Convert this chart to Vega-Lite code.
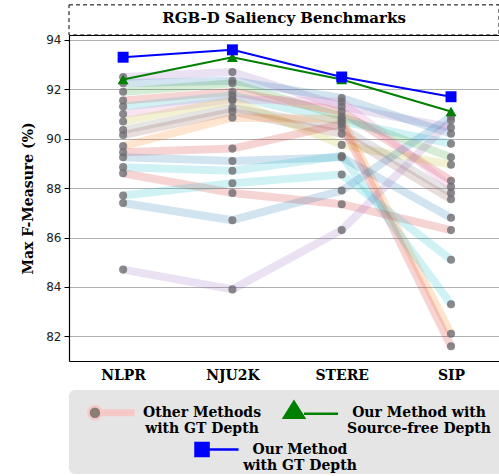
{
  "$schema": "https://vega.github.io/schema/vega-lite/v6.json",
  "width": 430,
  "height": 326,
  "autosize": {"type": "none"},
  "padding": {"left": 69, "top": 35, "right": 0, "bottom": 115},
  "title": {"text": "RGB-D Saliency Benchmarks", "font": "DejaVu Serif", "fontSize": 15, "fontWeight": "bold", "color": "black", "anchor": "middle", "frame": "group", "offset": -22},
  "config": {"view": {"stroke": null}, "font": "DejaVu Sans"},
  "datasets": {
    "others": [
      {"m": "M1", "d": "NLPR", "v": 92.5}, {"m": "M1", "d": "NJU2K", "v": 92.7}, {"m": "M1", "d": "STERE", "v": 91.3}, {"m": "M1", "d": "SIP", "v": 90.45},
      {"m": "M2", "d": "NLPR", "v": 92.25}, {"m": "M2", "d": "NJU2K", "v": 92.35}, {"m": "M2", "d": "STERE", "v": 91.65}, {"m": "M2", "d": "SIP", "v": 90.2},
      {"m": "M3", "d": "NLPR", "v": 91.9}, {"m": "M3", "d": "NJU2K", "v": 92.25}, {"m": "M3", "d": "STERE", "v": 90.9}, {"m": "M3", "d": "SIP", "v": 89.25},
      {"m": "M4", "d": "NLPR", "v": 91.55}, {"m": "M4", "d": "NJU2K", "v": 91.9}, {"m": "M4", "d": "STERE", "v": 91.1}, {"m": "M4", "d": "SIP", "v": 88.3},
      {"m": "M5", "d": "NLPR", "v": 91.3}, {"m": "M5", "d": "NJU2K", "v": 91.75}, {"m": "M5", "d": "STERE", "v": 90.7}, {"m": "M5", "d": "SIP", "v": 89.8},
      {"m": "M6", "d": "NLPR", "v": 91.0}, {"m": "M6", "d": "NJU2K", "v": 91.6}, {"m": "M6", "d": "STERE", "v": 91.5}, {"m": "M6", "d": "SIP", "v": 88.05},
      {"m": "M7", "d": "NLPR", "v": 90.7}, {"m": "M7", "d": "NJU2K", "v": 91.55}, {"m": "M7", "d": "STERE", "v": 89.75}, {"m": "M7", "d": "SIP", "v": 88.95},
      {"m": "M8", "d": "NLPR", "v": 90.35}, {"m": "M8", "d": "NJU2K", "v": 91.25}, {"m": "M8", "d": "STERE", "v": 90.45}, {"m": "M8", "d": "SIP", "v": 87.8},
      {"m": "M9", "d": "NLPR", "v": 90.15}, {"m": "M9", "d": "NJU2K", "v": 91.1}, {"m": "M9", "d": "STERE", "v": 90.2}, {"m": "M9", "d": "SIP", "v": 87.55},
      {"m": "M10", "d": "NLPR", "v": 89.7}, {"m": "M10", "d": "NJU2K", "v": 90.85}, {"m": "M10", "d": "STERE", "v": 90.8}, {"m": "M10", "d": "SIP", "v": 82.1},
      {"m": "M11", "d": "NLPR", "v": 89.45}, {"m": "M11", "d": "NJU2K", "v": 89.6}, {"m": "M11", "d": "STERE", "v": 90.6}, {"m": "M11", "d": "SIP", "v": 81.6},
      {"m": "M12", "d": "NLPR", "v": 89.25}, {"m": "M12", "d": "NJU2K", "v": 89.1}, {"m": "M12", "d": "STERE", "v": 89.25}, {"m": "M12", "d": "SIP", "v": 86.8},
      {"m": "M13", "d": "NLPR", "v": 88.85}, {"m": "M13", "d": "NJU2K", "v": 88.7}, {"m": "M13", "d": "STERE", "v": 89.3}, {"m": "M13", "d": "SIP", "v": 83.3},
      {"m": "M14", "d": "NLPR", "v": 88.6}, {"m": "M14", "d": "NJU2K", "v": 87.8}, {"m": "M14", "d": "STERE", "v": 87.35}, {"m": "M14", "d": "SIP", "v": 86.3},
      {"m": "M15", "d": "NLPR", "v": 87.7}, {"m": "M15", "d": "NJU2K", "v": 88.2}, {"m": "M15", "d": "STERE", "v": 88.55}, {"m": "M15", "d": "SIP", "v": 85.1},
      {"m": "M16", "d": "NLPR", "v": 87.4}, {"m": "M16", "d": "NJU2K", "v": 86.7}, {"m": "M16", "d": "STERE", "v": 87.9}, {"m": "M16", "d": "SIP", "v": 90.9},
      {"m": "M17", "d": "NLPR", "v": 84.7}, {"m": "M17", "d": "NJU2K", "v": 83.9}, {"m": "M17", "d": "STERE", "v": 86.3}, {"m": "M17", "d": "SIP", "v": 90.75}
    ],
    "ours": [
      {"s": "SF", "g": "Our Method with|Source-free Depth", "d": "NLPR", "v": 92.4},
      {"s": "SF", "g": "Our Method with|Source-free Depth", "d": "NJU2K", "v": 93.3},
      {"s": "SF", "g": "Our Method with|Source-free Depth", "d": "STERE", "v": 92.4},
      {"s": "SF", "g": "Our Method with|Source-free Depth", "d": "SIP", "v": 91.1},
      {"s": "GT", "g": "Our Method|with GT Depth", "d": "NLPR", "v": 93.3},
      {"s": "GT", "g": "Our Method|with GT Depth", "d": "NJU2K", "v": 93.6},
      {"s": "GT", "g": "Our Method|with GT Depth", "d": "STERE", "v": 92.5},
      {"s": "GT", "g": "Our Method|with GT Depth", "d": "SIP", "v": 91.7}
    ]
  },
  "resolve": {
    "scale": {"fill": "independent", "stroke": "independent", "shape": "independent"},
    "axis": {"x": "independent"}
  },
  "layer": [
    {
      "data": {"values": [{"k": "header"}]},
      "mark": {"type": "rect", "fillOpacity": 0, "stroke": "black", "strokeWidth": 1, "strokeDash": [4, 3]},
      "encoding": {
        "y": {"datum": 94.2, "type": "quantitative", "scale": {"domain": [81, 94.2], "nice": false, "zero": false}},
        "y2": {"datum": 95.42}
      }
    },
    {
      "data": {"name": "others"},
      "mark": {"type": "line", "strokeWidth": 8, "opacity": 0.2, "strokeJoin": "round"},
      "encoding": {
        "x": {"field": "d", "type": "nominal", "sort": ["NLPR", "NJU2K", "STERE", "SIP"],
              "scale": {"type": "point", "domain": ["NLPR", "NJU2K", "STERE", "SIP"], "padding": 0.467, "align": 0.53},
              "axis": {"orient": "bottom", "title": null, "labelAngle": 0, "labelFont": "DejaVu Serif", "labelFontSize": 14, "labelFontWeight": "bold", "labelColor": "black", "labelPadding": 7, "ticks": false, "domainColor": "black", "domainWidth": 1.2, "grid": false}},
        "y": {"field": "v", "type": "quantitative", "scale": {"domain": [81, 94.2], "nice": false, "zero": false},
              "axis": {"values": [82, 84, 86, 88, 90, 92, 94], "title": "Max F-Measure (%)", "titleFont": "DejaVu Serif", "titleFontSize": 14, "titleFontWeight": "bold", "titleColor": "black", "titlePadding": 10,
                       "labelFont": "DejaVu Sans", "labelFontSize": 12, "labelColor": "#222", "labelPadding": 3, "tickSize": 5, "tickColor": "black", "domainColor": "black", "domainWidth": 1.2,
                       "grid": true, "gridColor": "#b0b0b0", "gridWidth": 1}},
        "color": {"field": "m", "type": "nominal", "legend": null,
                  "scale": {"domain": ["M1","M2","M3","M4","M5","M6","M7","M8","M9","M10","M11","M12","M13","M14","M15","M16","M17"],
                            "range": ["#9467bd","#1f77b4","#2ca02c","#d62728","#17becf","#e377c2","#bcbd22","#7f7f7f","#8c564b","#ff7f0e","#d62728","#1f77b4","#17becf","#d62728","#17becf","#1f77b4","#9467bd"]}},
        "detail": {"field": "m"}
      }
    },
    {
      "data": {"name": "others"},
      "mark": {"type": "point", "filled": true, "size": 65, "color": "#6e6c70", "opacity": 0.8},
      "encoding": {
        "x": {"field": "d", "type": "nominal", "sort": ["NLPR", "NJU2K", "STERE", "SIP"],
              "axis": {"orient": "top", "title": null, "labels": false, "ticks": false, "domainColor": "black", "domainWidth": 1.2, "grid": false}},
        "y": {"field": "v", "type": "quantitative"}
      }
    },
    {
      "data": {"name": "ours"},
      "transform": [{"filter": "datum.s == 'SF'"}],
      "mark": {"type": "line", "color": "#008000", "strokeWidth": 2},
      "encoding": {
        "x": {"field": "d", "type": "nominal", "sort": ["NLPR", "NJU2K", "STERE", "SIP"], "axis": null},
        "y": {"field": "v", "type": "quantitative"}
      }
    },
    {
      "data": {"name": "ours"},
      "transform": [{"filter": "datum.s == 'SF'"}],
      "mark": {"type": "point", "shape": "triangle-up", "filled": true, "color": "#008000", "opacity": 1, "size": 120},
      "encoding": {
        "x": {"field": "d", "type": "nominal", "sort": ["NLPR", "NJU2K", "STERE", "SIP"], "axis": null},
        "y": {"field": "v", "type": "quantitative"}
      }
    },
    {
      "data": {"name": "ours"},
      "transform": [{"filter": "datum.s == 'GT'"}],
      "mark": {"type": "line", "color": "#0000ff", "strokeWidth": 2},
      "encoding": {
        "x": {"field": "d", "type": "nominal", "sort": ["NLPR", "NJU2K", "STERE", "SIP"], "axis": null},
        "y": {"field": "v", "type": "quantitative"}
      }
    },
    {
      "data": {"name": "ours"},
      "transform": [{"filter": "datum.s == 'GT'"}],
      "mark": {"type": "point", "shape": "square", "filled": true, "color": "#0000ff", "opacity": 1, "size": 120},
      "encoding": {
        "x": {"field": "d", "type": "nominal", "sort": ["NLPR", "NJU2K", "STERE", "SIP"], "axis": null},
        "y": {"field": "v", "type": "quantitative"}
      }
    },
    {
      "data": {"name": "ours"},
      "transform": [{"filter": "datum.s == 'SF'"}],
      "mark": {"type": "point", "filled": true, "opacity": 0},
      "encoding": {
        "x": {"field": "d", "type": "nominal", "sort": ["NLPR", "NJU2K", "STERE", "SIP"], "axis": null},
        "y": {"field": "v", "type": "quantitative"},
        "fill": {"field": "g", "type": "nominal",
                 "scale": {"domain": ["Other Methods|with GT Depth", "Our Method with|Source-free Depth", "blank"], "range": ["#8b7d74", "#008000", "transparent"]},
                 "legend": {"orient": "none", "legendX": 0, "legendY": 355, "direction": "horizontal", "columns": 2, "title": null,
                            "fillColor": "#e5e5e5", "cornerRadius": 6, "padding": 6, "columnPadding": 17, "rowPadding": 8,
                            "symbolSize": 900, "symbolStrokeWidth": 2.5, "symbolOpacity": 1,
                            "labelFont": "DejaVu Serif", "labelFontSize": 14, "labelFontWeight": "bold", "labelColor": "black",
                            "labelAlign": "center", "labelOffset": 94, "labelLimit": 400,
                            "labelExpr": "datum.value == 'blank' ? '' : split(datum.value, '|')"}},
        "stroke": {"field": "g", "type": "nominal",
                   "scale": {"domain": ["Other Methods|with GT Depth", "Our Method with|Source-free Depth", "blank"], "range": ["#f6c8c8", "#008000", "transparent"]},
                   "legend": {"orient": "none", "legendX": 0, "legendY": 355, "direction": "horizontal", "columns": 2, "title": null,
                            "fillColor": "#e5e5e5", "cornerRadius": 6, "padding": 6, "columnPadding": 17, "rowPadding": 8,
                            "symbolSize": 900, "symbolStrokeWidth": 2.5, "symbolOpacity": 1,
                            "labelFont": "DejaVu Serif", "labelFontSize": 14, "labelFontWeight": "bold", "labelColor": "black",
                            "labelAlign": "center", "labelOffset": 94, "labelLimit": 400,
                            "labelExpr": "datum.value == 'blank' ? '' : split(datum.value, '|')"}},
        "shape": {"field": "g", "type": "nominal",
                  "scale": {"domain": ["Other Methods|with GT Depth", "Our Method with|Source-free Depth", "blank"],
                            "range": ["M -0.2,0 C -0.2,-0.2375 -0.0175,-0.43 0.23,-0.43 C 0.4775,-0.43 0.66,-0.2375 0.66,0 C 0.66,0.2375 0.4775,0.43 0.23,0.43 C -0.0175,0.43 -0.2,0.2375 -0.2,0 Z M 0.66,-0.15 L 2.87,-0.15 M 0.66,0 L 2.87,0 M 0.66,0.15 L 2.87,0.15",
                                      "M -1.63,0.33 L -0.97,-0.73 L -0.3,0.33 Z M -0.3,0.07 L 1.97,0.07 M 13.5,0 L 13.5,0",
                                      "M 0,0 L 0,0"]},
                  "legend": {"orient": "none", "legendX": 0, "legendY": 355, "direction": "horizontal", "columns": 2, "title": null,
                            "fillColor": "#e5e5e5", "cornerRadius": 6, "padding": 6, "columnPadding": 17, "rowPadding": 8,
                            "symbolSize": 900, "symbolStrokeWidth": 2.5, "symbolOpacity": 1,
                            "labelFont": "DejaVu Serif", "labelFontSize": 14, "labelFontWeight": "bold", "labelColor": "black",
                            "labelAlign": "center", "labelOffset": 94, "labelLimit": 400,
                            "labelExpr": "datum.value == 'blank' ? '' : split(datum.value, '|')"}}
      }
    },
    {
      "data": {"name": "ours"},
      "transform": [{"filter": "datum.s == 'GT'"}],
      "mark": {"type": "point", "filled": true, "opacity": 0},
      "encoding": {
        "x": {"field": "d", "type": "nominal", "sort": ["NLPR", "NJU2K", "STERE", "SIP"], "axis": null},
        "y": {"field": "v", "type": "quantitative"},
        "fill": {"field": "g", "type": "nominal", "scale": {"domain": ["Our Method|with GT Depth"], "range": ["#0000ff"]},
                 "legend": {"orient": "none", "legendX": 104, "legendY": 398, "title": null, "padding": 0,
                            "symbolSize": 900, "symbolStrokeWidth": 2.5, "symbolOpacity": 1,
                            "labelFont": "DejaVu Serif", "labelFontSize": 14, "labelFontWeight": "bold", "labelColor": "black",
                            "labelAlign": "center", "labelOffset": 94, "labelLimit": 400,
                            "labelExpr": "split(datum.value, '|')"}},
        "stroke": {"field": "g", "type": "nominal", "scale": {"domain": ["Our Method|with GT Depth"], "range": ["#0000ff"]},
                 "legend": {"orient": "none", "legendX": 104, "legendY": 398, "title": null, "padding": 0,
                            "symbolSize": 900, "symbolStrokeWidth": 2.5, "symbolOpacity": 1,
                            "labelFont": "DejaVu Serif", "labelFontSize": 14, "labelFontWeight": "bold", "labelColor": "black",
                            "labelAlign": "center", "labelOffset": 94, "labelLimit": 400,
                            "labelExpr": "split(datum.value, '|')"}},
        "shape": {"field": "g", "type": "nominal",
                  "scale": {"domain": ["Our Method|with GT Depth"], "range": ["M 0.4,-0.43 L 1.27,-0.43 L 1.27,0.43 L 0.4,0.43 Z M 1.27,0 L 3.27,0"]},
                 "legend": {"orient": "none", "legendX": 104, "legendY": 398, "title": null, "padding": 0,
                            "symbolSize": 900, "symbolStrokeWidth": 2.5, "symbolOpacity": 1,
                            "labelFont": "DejaVu Serif", "labelFontSize": 14, "labelFontWeight": "bold", "labelColor": "black",
                            "labelAlign": "center", "labelOffset": 94, "labelLimit": 400,
                            "labelExpr": "split(datum.value, '|')"}}
      }
    }
  ]
}
